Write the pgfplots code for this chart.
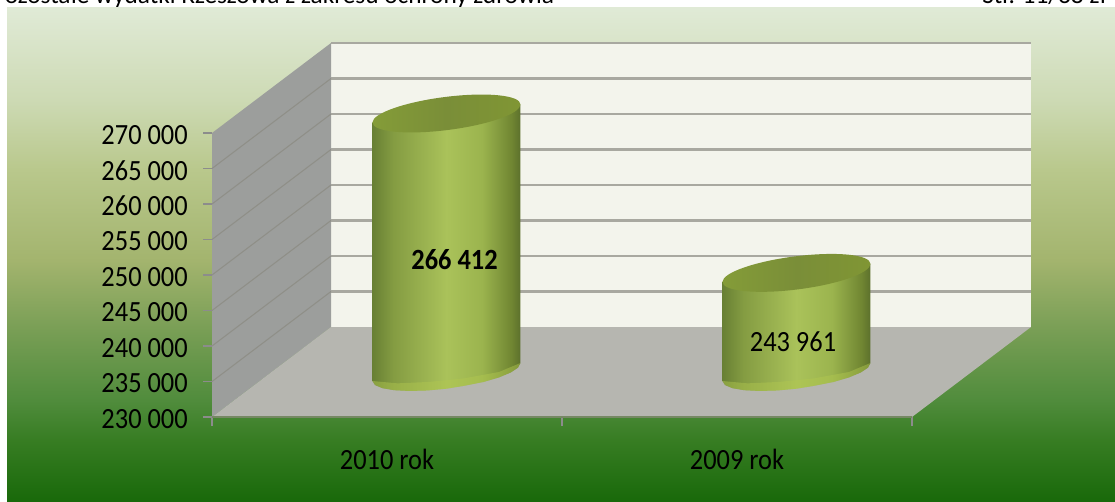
\documentclass[border=0pt]{standalone}
\usepackage{pgfplots}
\pgfplotsset{compat=1.18}
\usepackage{fontspec}
\setmainfont[FakeStretch=0.9]{Carlito}
\newfontfamily\hdr{Carlito}
\pgfdeclareverticalshading{bgshade}{100bp}{
 rgb(0bp)=(0.098,0.412,0.039);
 rgb(25bp)=(0.098,0.412,0.039);
 rgb(31.2bp)=(0.216,0.490,0.137);
 rgb(35.2bp)=(0.314,0.549,0.235);
 rgb(42.3bp)=(0.471,0.620,0.333);
 rgb(49.4bp)=(0.639,0.706,0.431);
 rgb(58.6bp)=(0.725,0.784,0.549);
 rgb(65.7bp)=(0.804,0.855,0.706);
 rgb(75bp)=(0.878,0.918,0.839);
 rgb(100bp)=(0.878,0.918,0.839)}
\pgfdeclarehorizontalshading{cylshade}{100bp}{
 rgb(0bp)=(0.408,0.502,0.204);
 rgb(25bp)=(0.408,0.502,0.204);
 rgb(32bp)=(0.518,0.612,0.259);
 rgb(50bp)=(0.667,0.761,0.353);
 rgb(62bp)=(0.608,0.706,0.306);
 rgb(72bp)=(0.439,0.525,0.196);
 rgb(75bp)=(0.361,0.439,0.173);
 rgb(100bp)=(0.361,0.439,0.173)}
\pgfdeclarehorizontalshading{topshade}{100bp}{
 rgb(0bp)=(0.518,0.612,0.220);
 rgb(25bp)=(0.518,0.612,0.220);
 rgb(50bp)=(0.478,0.557,0.220);
 rgb(75bp)=(0.502,0.588,0.204);
 rgb(100bp)=(0.502,0.588,0.204)}
\pgfdeclareplotmark{cyltop}{%
  \pgfpathellipse{\pgfpointorigin}{\pgfqpoint{55.5pt}{6.75pt}}{\pgfqpoint{0pt}{-12.5pt}}%
  \pgfshadepath{topshade}{0}\pgfusepath{discard}}
\definecolor{wallc}{RGB}{156,158,156}
\definecolor{floorc}{RGB}{182,182,176}
\definecolor{backc}{RGB}{243,244,236}
\definecolor{gridc}{RGB}{168,168,160}
\definecolor{tickc}{RGB}{140,140,140}
\definecolor{rimc}{RGB}{178,200,80}
\begin{document}
\begin{tikzpicture}[x=1pt,y=1pt]
\path[use as bounding box] (0,0) rectangle (836.25,375.75);
\clip (0,0) rectangle (836.25,375.75);
% clipped page header, behind the panel
\node[anchor=base west,inner sep=0pt,font=\hdr\fontsize{19}{21}\selectfont] at (-6,372.75) {Pozostałe wydatki Rzeszowa z zakresu ochrony zdrowia};
\node[anchor=base west,inner sep=0pt,font=\hdr\fontsize{19}{21}\selectfont] at (736.5,372.75) {Str. 11/38 zł};
\shade[shading=bgshade] (5.25,0) rectangle (836.25,369.75);
\begin{axis}[
  at={(159pt,63pt)},anchor=origin,
  scale only axis,width=525pt,height=213pt,
  xmin=0,xmax=2,ymin=230000,ymax=270000,
  clip=false,
  scaled y ticks=false,
  axis line style={draw=none},
  xtick pos=bottom,ytick pos=left,
  xtick={0,1,2},xticklabels={},
  extra x ticks={0.5,1.5},
  extra x tick labels={2010 rok,2009 rok},
  extra x tick style={major tick length=0pt,tick label style={yshift=-23pt}},
  ytick={230000,235000,240000,245000,250000,255000,260000,265000,270000},
  yticklabels={230 000,235 000,240 000,245 000,250 000,255 000,260 000,265 000,270 000},
  tick style={tickc,line width=0.9pt},
  tick align=outside,
  major tick length=6.5pt,
  ticklabel style={font=\fontsize{22}{24}\selectfont,text=black},
  tick label style={inner sep=1pt},
  yticklabel shift=10.5pt,
  yticklabel style={yshift=-1.5pt},
]
% back wall, left wall, floor
\addplot[fill=backc,draw=none] coordinates {(0.34,242676)(2.34,242676)(2.34,282676)(0.34,282676)} -- cycle;
\addplot[fill=wallc,draw=none] coordinates {(0,230000)(0.34,242676)(0.34,282676)(0,270000)} -- cycle;
\addplot[fill=floorc,draw=none] coordinates {(0,230000)(2,230000)(2.34,242676)(0.34,242676)} -- cycle;
% grid on back wall
\addplot[gridc,line width=1.6pt] coordinates {(0.34,247676)(2.34,247676)};
\addplot[gridc,line width=1.6pt] coordinates {(0.34,252676)(2.34,252676)};
\addplot[gridc,line width=1.6pt] coordinates {(0.34,257676)(2.34,257676)};
\addplot[gridc,line width=1.6pt] coordinates {(0.34,262676)(2.34,262676)};
\addplot[gridc,line width=1.6pt] coordinates {(0.34,267676)(2.34,267676)};
\addplot[gridc,line width=1.6pt] coordinates {(0.34,272676)(2.34,272676)};
\addplot[gridc,line width=1.6pt] coordinates {(0.34,277676)(2.34,277676)};
\addplot[gridc,line width=1.6pt] coordinates {(0.34,282676)(2.34,282676)};
% grid on left wall
\addplot[gridc!85!black,line width=0.8pt] coordinates {(0,235000)(0.34,247676)};
\addplot[gridc!85!black,line width=0.8pt] coordinates {(0,240000)(0.34,252676)};
\addplot[gridc!85!black,line width=0.8pt] coordinates {(0,245000)(0.34,257676)};
\addplot[gridc!85!black,line width=0.8pt] coordinates {(0,250000)(0.34,262676)};
\addplot[gridc!85!black,line width=0.8pt] coordinates {(0,255000)(0.34,267676)};
\addplot[gridc!85!black,line width=0.8pt] coordinates {(0,260000)(0.34,272676)};
\addplot[gridc!85!black,line width=0.8pt] coordinates {(0,265000)(0.34,277676)};
% front edge of the floor
\addplot[color={rgb,255:red,118;green,136;blue,100},line width=1.5pt] coordinates {(0,230000)(2,230000)};
% cylinder bodies, with the rounded lower edge
\addplot[draw=none,shade,shading=cylshade,xshift=44.6pt,yshift=33.75pt] coordinates {
 (0.2886,265144)(0.7114,267680)(0.7114,231268)
 (0.7042,230615)(0.6831,229922)(0.6495,229232)(0.6057,228597)(0.55,228056)(0.5,227648)
 (0.4453,227400)(0.3943,227329)(0.3505,227441)(0.3169,227726)(0.2958,228167)(0.2886,228732)} -- cycle;
\addplot[draw=none,shade,shading=cylshade,xshift=44.6pt,yshift=33.75pt] coordinates {
 (1.2886,242693)(1.7114,245229)(1.7114,231268)
 (1.7042,230615)(1.6831,229922)(1.6495,229232)(1.6057,228597)(1.55,228056)(1.5,227648)
 (1.4453,227400)(1.3943,227329)(1.3505,227441)(1.3169,227726)(1.2958,228167)(1.2886,228732)} -- cycle;
% lighter rim at the foot
\addplot[draw=none,fill=rimc,fill opacity=0.45,xshift=44.6pt,yshift=33.75pt] coordinates {
 (0.7114,231268)(0.7042,230615)(0.6831,229922)(0.6495,229232)(0.6057,228597)(0.55,228056)(0.5,227648)
 (0.4453,227400)(0.3943,227329)(0.3505,227441)(0.3169,227726)(0.2958,228167)(0.2886,228732)
 (0.36,228400)(0.45,228600)(0.55,229100)(0.65,230000)} -- cycle;
\addplot[draw=none,fill=rimc,fill opacity=0.45,xshift=44.6pt,yshift=33.75pt] coordinates {
 (1.7114,231268)(1.7042,230615)(1.6831,229922)(1.6495,229232)(1.6057,228597)(1.55,228056)(1.5,227648)
 (1.4453,227400)(1.3943,227329)(1.3505,227441)(1.3169,227726)(1.2958,228167)(1.2886,228732)
 (1.36,228400)(1.45,228600)(1.55,229100)(1.65,230000)} -- cycle;
% tops of the cylinders, at the values
\addplot[only marks,mark=cyltop,xshift=44.6pt,yshift=33.75pt] coordinates {(0.5,266412)(1.5,243961)};
% value labels
\node[font=\fontsize{22}{24}\selectfont\bfseries] at (axis cs:0.693,252170) {266 412};
\node[font=\fontsize{22}{24}\selectfont] at (axis cs:1.66,240600) {243 961};
\end{axis}
\end{tikzpicture}
\end{document}
